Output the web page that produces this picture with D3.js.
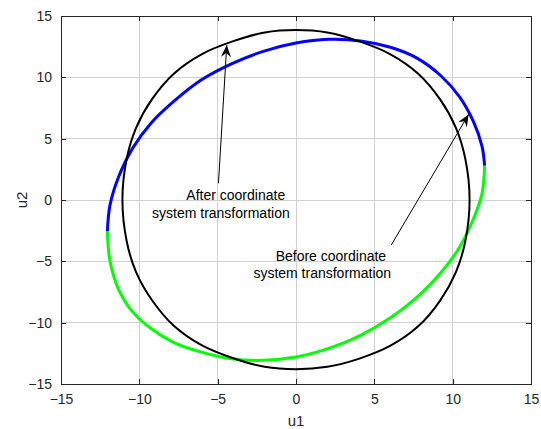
<!DOCTYPE html>
<html>
<head>
<meta charset="utf-8">
<script src="https://cdn.jsdelivr.net/npm/d3@7"></script>
<style>
  body { margin: 0; background: #fff; }
  text { font-family: "Liberation Sans", Arial, sans-serif; }
</style>
</head>
<body>
<div id="chart"></div>
<script>
// Values (u1, u2)

// before transformation, upper part (blue), from right extreme to left extreme
var blueU1 = [12.04, 11.87, 11.32, 10.44, 9.23, 7.75, 6.03, 4.12, 2.09, 0, -2.09, -4.12, -6.03, -7.75, -9.23, -10.44, -11.32, -11.87, -12.04]
var blueU2 = [2.8, 4.4, 6.4, 8.4, 10.15, 11.55, 12.45, 12.97, 13.1, 12.8, 12.12, 11.1, 9.8, 8.1, 6.3, 4.2, 1.9, -0.4, -2.55]

// before transformation, lower part (green), from left extreme to right extreme
var greenU1 = [-12.04, -11.87, -11.32, -10.44, -9.23, -7.75, -6.03, -4.12, -2.09, 0, 2.09, 4.12, 6.03, 7.75, 9.23, 10.44, 11.32, 11.87, 12.04]
var greenU2 = [-2.55, -5.0, -7.3, -9.1, -10.5, -11.64, -12.4, -12.95, -13.07, -12.8, -12.1, -11.03, -9.6, -7.9, -5.95, -3.85, -1.55, 0.5, 2.8]

// after transformation (black), closed loop, clockwise from the top
var blackU1 = [0, 2.0, 4.0, 6.0, 7.8, 9.2, 10.2, 10.8, 11.08, 10.8, 10.2, 9.2, 7.8, 6.0, 4.0, 2.0, 0, -2.0, -4.0, -6.0, -7.8, -9.2, -10.2, -10.8, -11.08, -10.8, -10.2, -9.2, -7.8, -6.0, -4.0, -2.0]
var blackU2 = [13.85, 13.65, 12.95, 11.9, 10.3, 8.2, 5.9, 3.4, 0, -3.4, -5.9, -8.2, -10.3, -11.9, -12.95, -13.6, -13.8, -13.6, -12.9, -11.85, -10.25, -8.15, -5.9, -3.4, 0, 3.4, 5.9, 8.2, 10.3, 11.9, 12.95, 13.65]

var ticks = [-15, -10, -5, 0, 5, 10, 15]

// annotations: text lines and arrows (tail -> tip), in data units
var notes = [
  { lines: ['After coordinate', 'system transformation'], at: [[-7.0, 0.0], [-9.19, -1.47]], tail: [-4.95, 1.36], tip: [-4.42, 12.63] },
  { lines: ['Before coordinate', 'system transformation'], at: [[-1.3, -4.97], [-2.72, -6.33]], tail: [6.08, -3.67], tip: [11.02, 6.98] }
]

var width = 541
var height = 429
var margin = { top: 16, right: 10, bottom: 45, left: 61 }

var svg = d3.select('#chart')
  .append('svg')
  .attr('width', width)
  .attr('height', height)

var x = d3.scaleLinear().domain([-15, 15]).range([margin.left, width - margin.right])
var y = d3.scaleLinear().domain([-15, 15]).range([height - margin.bottom, margin.top])

var axisColor = '#262626'

// grid
svg.append('g')
  .selectAll('line')
  .data(ticks.slice(1, -1))
  .enter()
  .append('line')
  .attr('x1', d => x(d)).attr('x2', d => x(d))
  .attr('y1', y(-15)).attr('y2', y(15))
  .attr('stroke', '#d0d0d0')
  .attr('shape-rendering', 'crispEdges')

svg.append('g')
  .selectAll('line')
  .data(ticks.slice(1, -1))
  .enter()
  .append('line')
  .attr('y1', d => y(d)).attr('y2', d => y(d))
  .attr('x1', x(-15)).attr('x2', x(15))
  .attr('stroke', '#d0d0d0')
  .attr('shape-rendering', 'crispEdges')

// curves
var line = d3.line()
  .x(d => x(d[0]))
  .y(d => y(d[1]))

var blue = d3.zip(blueU1, blueU2)
var green = d3.zip(greenU1, greenU2)
var black = d3.zip(blackU1, blackU2)

svg.append('path')
  .datum(green)
  .attr('d', line.curve(d3.curveCatmullRom))
  .attr('fill', 'none')
  .attr('stroke', '#00ff00')
  .attr('stroke-width', 3)

svg.append('path')
  .datum(blue)
  .attr('d', line.curve(d3.curveCatmullRom))
  .attr('fill', 'none')
  .attr('stroke', '#0000ff')
  .attr('stroke-width', 3)

svg.append('path')
  .datum(black)
  .attr('d', line.curve(d3.curveCatmullRomClosed))
  .attr('fill', 'none')
  .attr('stroke', '#000')
  .attr('stroke-width', 2)

// axes box with inward ticks
var noLabel = () => ''
var axBottom = d3.axisBottom(x).tickValues(ticks).tickSizeInner(-5).tickSizeOuter(0).tickPadding(10)
var axLeft = d3.axisLeft(y).tickValues(ticks).tickSizeInner(-5).tickSizeOuter(0).tickPadding(9)
var axTop = d3.axisTop(x).tickValues(ticks).tickSizeInner(-5).tickSizeOuter(0).tickFormat(noLabel)
var axRight = d3.axisRight(y).tickValues(ticks).tickSizeInner(-5).tickSizeOuter(0).tickFormat(noLabel)

function styleAxis(g) {
  g.select('.domain').attr('stroke', axisColor)
  g.selectAll('.tick line').attr('stroke', axisColor)
  g.selectAll('.tick text')
    .attr('fill', axisColor)
    .style('font-size', '14px')
    .style('font-family', '"Liberation Sans", Arial, sans-serif')
}

svg.append('g').attr('transform', `translate(0, ${y(-15)})`).call(axBottom).call(styleAxis)
svg.append('g').attr('transform', `translate(${x(-15)}, 0)`).call(axLeft).call(styleAxis)
svg.append('g').attr('transform', `translate(0, ${y(15)})`).call(axTop).call(styleAxis)
svg.append('g').attr('transform', `translate(${x(15)}, 0)`).call(axRight).call(styleAxis)

svg.selectAll('.domain, .tick line').attr('shape-rendering', 'crispEdges')

// axis labels
svg.append('text')
  .attr('x', x(0))
  .attr('y', 426)
  .attr('text-anchor', 'middle')
  .attr('fill', axisColor)
  .style('font-size', '15px')
  .text('u1')

svg.append('text')
  .attr('transform', `translate(27, ${y(0)}) rotate(-90)`)
  .attr('text-anchor', 'middle')
  .attr('fill', axisColor)
  .style('font-size', '15px')
  .text('u2')

// annotations
svg.append('defs')
  .append('marker')
  .attr('id', 'head')
  .attr('viewBox', '0 0 12 10')
  .attr('refX', 12)
  .attr('refY', 5)
  .attr('markerWidth', 12)
  .attr('markerHeight', 10)
  .attr('markerUnits', 'userSpaceOnUse')
  .attr('orient', 'auto')
  .append('path')
  .attr('d', 'M0,0 L12,5 L0,10 L4,5 Z')
  .attr('fill', '#000')

notes.forEach(n => {
  svg.append('line')
    .attr('x1', x(n.tail[0])).attr('y1', y(n.tail[1]))
    .attr('x2', x(n.tip[0])).attr('y2', y(n.tip[1]))
    .attr('stroke', '#000')
    .attr('stroke-width', 1)
    .attr('marker-end', 'url(#head)')

  n.lines.forEach((t, i) => {
    svg.append('text')
      .attr('x', x(n.at[i][0]))
      .attr('y', y(n.at[i][1]))
      .attr('fill', '#000')
      .style('font-size', '14px')
      .text(t)
  })
})
</script>
</body>
</html>
